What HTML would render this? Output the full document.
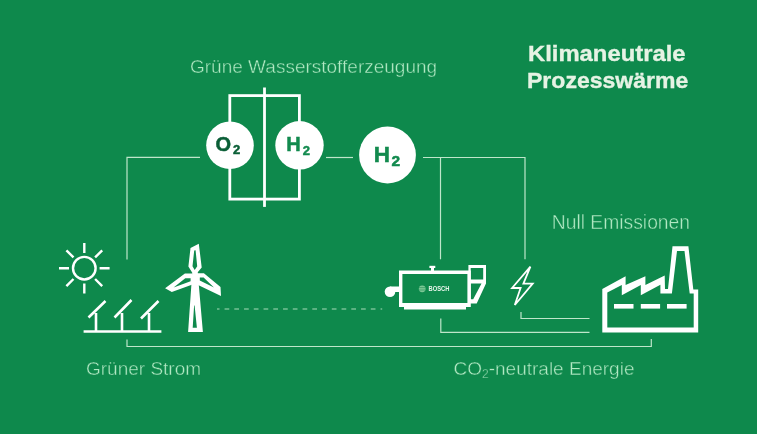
<!DOCTYPE html>
<html><head><meta charset="utf-8">
<style>
html,body{margin:0;padding:0;background:#0e894c;width:757px;height:434px;overflow:hidden}
svg{display:block;position:absolute;left:0;top:0;will-change:transform}
text{font-family:"Liberation Sans",sans-serif}
</style></head><body>
<svg width="757" height="434" viewBox="0 0 757 434">
<rect x="0" y="0" width="757" height="434" fill="#0e894c"/>
<!-- connector lines -->
<g fill="none" stroke="#bfe6ca" stroke-width="1.2">
  <path d="M127,259.5 V157.4 H200"/>
  <path d="M326,157.5 H353"/>
  <path d="M423,157.5 H525 V259.3"/>
  <path d="M440.5,157.5 V259.3"/>
  <path d="M521,312 V318.5 H589.5"/>
  <path d="M440.8,318.6 V332.4 H589.5"/>
  <path d="M127,339.4 V346.5 H651.3 V339.1"/>
</g>
<path d="M217,309 H382.2" fill="none" stroke="#a8dcb8" stroke-width="1.2" stroke-dasharray="4.7 5.05" stroke-dashoffset="2.2"/>

<!-- electrolyser -->
<g fill="none" stroke="#ffffff" stroke-width="2.8">
  <rect x="229.8" y="95.6" width="69.6" height="103.5"/>
  <path d="M264.5,87.5 V206.9"/>
</g>
<circle cx="230" cy="145.3" r="23.8" fill="#fff"/>
<circle cx="299.5" cy="145.3" r="24.2" fill="#fff"/>
<circle cx="387.5" cy="155" r="28.4" fill="#fff"/>
<text x="215.5" y="150.5" font-size="20" font-weight="bold" fill="#0a5e36" stroke="#0a5e36" stroke-width="0.5">O</text>
<text x="233" y="153.8" font-size="13" font-weight="bold" fill="#0a5e36" stroke="#0a5e36" stroke-width="0.5">2</text>
<text x="286.3" y="151.3" font-size="20" font-weight="bold" fill="#128a4e" stroke="#128a4e" stroke-width="0.5">H</text>
<text x="302.8" y="154.9" font-size="13" font-weight="bold" fill="#128a4e" stroke="#128a4e" stroke-width="0.5">2</text>
<text x="373.8" y="162" font-size="22.5" font-weight="bold" fill="#128a4e" stroke="#128a4e" stroke-width="0.5">H</text>
<text x="391.6" y="166.2" font-size="15.5" font-weight="bold" fill="#128a4e" stroke="#128a4e" stroke-width="0.5">2</text>

<!-- sun -->
<g fill="none" stroke="#fff" stroke-width="2.4">
  <circle cx="84.3" cy="268.2" r="11.3"/>
  <path d="M84.3,243 V253 M84.3,283.4 V293.4 M59,268.2 H69 M99.6,268.2 H109.6
           M66.4,250.3 L73.5,257.4 M95.1,279 L102.2,286.1 M102.2,250.3 L95.1,257.4 M73.5,279 L66.4,286.1"/>
</g>
<!-- solar panels -->
<g fill="none" stroke="#fff" stroke-width="2.6">
  <path d="M83.6,331.5 H161.4"/>
  <path d="M88.5,317.5 L105.5,301 M96,331.5 V313"/>
  <path d="M114.5,317.5 L131.5,300 M122,331.5 V313"/>
  <path d="M141,318.5 L158.5,301 M149,331.5 V313"/>
</g>
<!-- wind turbine -->
<g fill="#fff" fill-rule="evenodd">
  <path d="M198.8,243.7 L190.5,247.9 L188.4,266.6 L192.1,272.5 L197.5,272.5 L201.7,267.4 Z M194.2,250.5 L195.6,250.3 L197.2,266.3 L194.7,270 L192.5,266.3 Z"/>
  <path d="M165.1,288.3 L184.9,273.4 L192.5,273.4 L192.5,284.4 L171.8,292 Z M173.6,287.6 L185.3,278.3 L190.6,278.3 L190.6,281.2 Z"/>
  <path d="M197,273.3 L203.9,273.3 L220.5,287.1 L221,295.9 L197,284.4 Z M199.8,277.6 L203.6,277.6 L214,287.4 L199.8,280.6 Z"/>
  <path d="M192.4,270 L197.5,270 L202.9,332 L188.1,332 Z M194.1,305.6 L194.6,305.6 L196.9,327.8 L192.7,327.8 Z"/>
</g>
<!-- generator -->
<g fill="#fff" fill-rule="evenodd">
  <path d="M399,270.5 H470.8 V307 H399 Z M402.4,274 V302.9 H467.4 V274 Z"/>
  <rect x="404" y="306" width="62" height="3.5"/>
  <rect x="429.4" y="265.8" width="5.9" height="2.2"/>
  <rect x="431" y="266" width="3" height="6"/>
  <circle cx="390" cy="291.7" r="5.3"/>
  <rect x="390" y="286.5" width="10" height="5.5"/>
  <path d="M468.4,265 H486 V283.4 L476.7,303.4 H468.4 Z M470.7,268.1 H483.2 V279.6 H470.7 Z M470.7,283.4 H481.5 L473.2,299.3 H470.7 Z"/>
</g>
<circle cx="422.2" cy="288.8" r="3.4" fill="#7cc795"/>
<path d="M419,287.6 H425.4 M419,290 H425.4" stroke="#2f9a5e" stroke-width="0.7"/>
<text transform="translate(428.6,290.9) scale(0.85,1)" x="0" y="0" font-size="6.8" font-weight="bold" fill="#eaf6ec">BOSCH</text>
<!-- lightning -->
<path d="M530.4,266.7 L512.1,288 L520.6,288 L514.8,305 L532.7,283.6 L523.4,283.6 Z" fill="none" stroke="#fff" stroke-width="1.8" stroke-linejoin="miter"/>
<!-- factory -->
<g fill="#fff" fill-rule="evenodd">
  <path d="M602.3,332.4 L602.3,289 L625.6,276.2 L625.6,285 L645.4,276.2 L645.4,285 L664.7,275.6 L665,289 L668,289 L672.5,246.2 L688.4,246.2 L693.3,289.4 L698.2,289.4 L698.2,332.4 Z
           M607.3,327.5 L607.3,292.6 L621.8,285 L621.8,295.2 L640.8,285 L640.8,295.2 L660.4,284.8 L660.4,293.4 L671.9,293.4 L677,251 L684.5,251 L689.7,293.4 L693.7,293.4 L693.7,327.5 Z"/>
  <rect x="614" y="304" width="19.5" height="4.6"/>
  <rect x="640.8" y="304" width="19.3" height="4.6"/>
  <rect x="667" y="304" width="19.6" height="4.6"/>
</g>

<!-- texts -->
<text x="190" y="72.8" font-size="19" fill="#b2e8c3" stroke="#0e894c" stroke-width="0.4">Grüne Wasserstofferzeugung</text>
<text transform="translate(528,61) scale(1.083,1)" x="0" y="0" font-size="22" font-weight="bold" fill="#e6f3e4" stroke="#e6f3e4" stroke-width="0.35">Klimaneutrale</text>
<text transform="translate(527,88.3) scale(1.047,1)" x="0" y="0" font-size="22" font-weight="bold" fill="#e6f3e4" stroke="#e6f3e4" stroke-width="0.35">Prozesswärme</text>
<text x="551.8" y="228.5" font-size="19.3" fill="#b2e8c3" stroke="#0e894c" stroke-width="0.4">Null Emissionen</text>
<text x="86" y="375" font-size="19" fill="#b2e8c3" stroke="#0e894c" stroke-width="0.4">Grüner Strom</text>
<text x="453.5" y="375.3" font-size="19" fill="#b2e8c3" stroke="#0e894c" stroke-width="0.4">CO<tspan font-size="12" dy="3">2</tspan><tspan dy="-3">-neutrale Energie</tspan></text>
</svg>
</body></html>
